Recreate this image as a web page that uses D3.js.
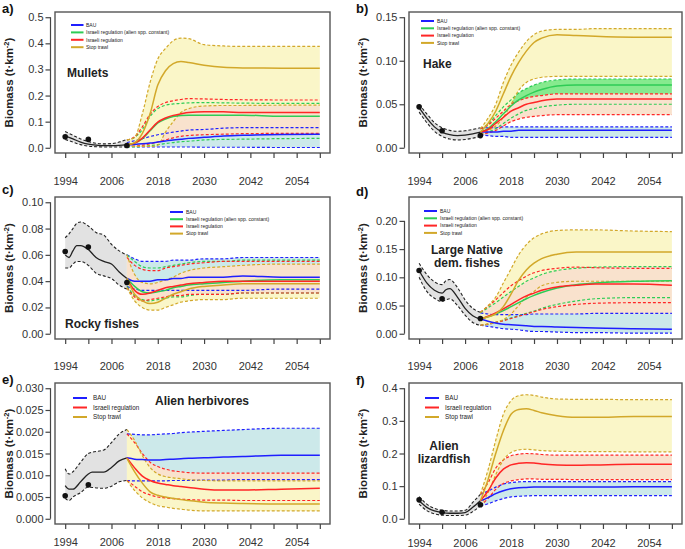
<!DOCTYPE html>
<html><head><meta charset="utf-8">
<script src="https://cdn.jsdelivr.net/npm/d3@7"></script>
<style>body{margin:0;background:#fff} svg{display:block} text{font-family:"Liberation Sans",Arial,sans-serif}</style>
</head><body><svg id="c" width="685" height="549"></svg>
<script>
// ---------------- DATA ----------------
const scenYears = [2010,2012,2014,2016,2018,2020,2022,2024,2026,2030,2035,2040,2050,2060];
const xTicks = [1994,2000,2006,2012,2018,2024,2030,2036,2042,2048,2054,2060];
const xTickLabels = [1994,2006,2018,2030,2042,2054];
const legend4 = ["BAU","Israeli regulation (alien spp. constant)","Israeli regulation","Stop trawl"];
const legend3 = ["BAU","Israeli regulation","Stop trawl"];

// a) Mullets
const mulletsHistYears = [1994,1996,1998,2000,2002,2004,2006,2008,2010];
const mulletsHist = {mean:[.046,.034,.022,.014,.010,.008,.008,.009,.012], hi:[.062,.048,.034,.024,.017,.015,.016,.022,.032], lo:[.032,.022,.012,.006,.004,.003,.003,.003,.003]};
const mulletsObsYears = [1994,2000,2010];
const mulletsObs = [.042,.032,.009];
const mulletsBau = {mean:[.012,.013,.015,.018,.022,.026,.030,.033,.036,.040,.045,.048,.051,.052], hi:[.020,.027,.035,.043,.050,.055,.060,.064,.068,.070,.075,.077,.077,.077], lo:[.005,.004,.003,.003,.003,.003,.003,.003,.003,.002,.002,.002,.001,.001]};
const mulletsGreen = {mean:[.012,.018,.035,.065,.095,.110,.120,.124,.125,.125,.125,.125,.121,.121], hi:[.030,.040,.070,.120,.150,.163,.168,.170,.172,.173,.172,.171,.170,.170], lo:[.003,.003,.005,.008,.012,.016,.020,.023,.025,.030,.032,.033,.035,.036]};
const mulletsRed = {mean:[.012,.018,.037,.068,.098,.114,.124,.130,.135,.138,.138,.135,.135,.135], hi:[.030,.042,.080,.128,.158,.173,.180,.185,.188,.187,.185,.184,.183,.183], lo:[.005,.006,.010,.015,.022,.030,.038,.044,.047,.050,.052,.054,.055,.055]};
const mulletsStop = {mean:[.012,.020,.055,.130,.240,.295,.322,.330,.327,.316,.308,.306,.305,.305], hi:[.030,.040,.130,.250,.340,.380,.410,.420,.418,.395,.390,.388,.388,.388], lo:[.005,.005,.005,.005,.010,.060,.100,.135,.150,.160,.162,.162,.163,.163]};
const mulletsYTicks = [0,0.1,0.2,0.3,0.4,0.5];

// b) Hake
const hakeHistYears = [1994,1996,1998,2000,2002,2004,2006,2008,2010];
const hakeHist = {mean:[.046,.034,.024,.018,.015,.014,.0145,.016,.018], hi:[.050,.039,.029,.023,.020,.019,.0195,.021,.023], lo:[.041,.029,.019,.013,.010,.009,.0095,.011,.013]};
const hakeObsYears = [1994,2000,2010];
const hakeObs = [.047,.0195,.014];
const hakeBau = {mean:[.018,.018,.018,.019,.019,.020,.020,.020,.020,.020,.020,.020,.020,.020], hi:[.022,.023,.023,.024,.024,.024,.024,.024,.024,.024,.024,.024,.024,.024], lo:[.015,.014,.013,.013,.012,.012,.012,.012,.012,.012,.012,.012,.012,.012]};
const hakeGreen = {mean:[.018,.022,.030,.039,.048,.055,.060,.064,.067,.071,.072,.072,.072,.072], hi:[.022,.027,.037,.047,.055,.063,.068,.072,.075,.078,.079,.079,.079,.079], lo:[.016,.018,.022,.028,.034,.039,.043,.045,.047,.049,.050,.050,.050,.050]};
const hakeRed = {mean:[.018,.021,.028,.035,.042,.046,.050,.052,.054,.056,.056,.056,.056,.056], hi:[.022,.026,.034,.042,.050,.054,.057,.059,.060,.062,.062,.062,.062,.062], lo:[.015,.017,.020,.025,.030,.033,.035,.036,.037,.038,.038,.038,.038,.038]};
const hakeStop = {mean:[.018,.028,.042,.062,.082,.098,.111,.121,.126,.130,.129,.128,.127,.127], hi:[.022,.034,.050,.075,.095,.110,.122,.130,.134,.136,.136,.137,.137,.137], lo:[.016,.020,.025,.035,.050,.066,.075,.079,.081,.082,.082,.082,.082,.082]};
const hakeYTicks = [0,0.05,0.10,0.15];

// c) Rocky fishes
const rockyHistYears = [1994,1995,1996,1997,1998,2000,2002,2004,2006,2008,2010];
const rockyHist = {mean:[.060,.058,.063,.067,.067,.064,.058,.055,.053,.047,.042], hi:[.073,.076,.080,.084,.085,.082,.077,.075,.068,.063,.060], lo:[.050,.050,.053,.055,.055,.052,.046,.044,.042,.037,.034]};
const rockyObsYears = [1994,2000,2010];
const rockyObs = [.0625,.066,.039];
const rockyBau = {mean:[.042,.040,.040,.040,.041,.041,.042,.042,.043,.043,.043,.044,.043,.043], hi:[.060,.057,.055,.055,.055,.055,.056,.056,.056,.057,.057,.058,.058,.058], lo:[.036,.034,.033,.033,.033,.033,.033,.033,.033,.033,.033,.033,.034,.034]};
const rockyGreen = {mean:[.042,.036,.032,.031,.032,.033,.035,.036,.037,.038,.039,.040,.041,.041], hi:[.060,.055,.051,.050,.050,.051,.052,.053,.054,.055,.055,.056,.056,.056], lo:[.036,.029,.026,.025,.026,.027,.028,.028,.029,.030,.030,.031,.031,.031]};
const rockyRed = {mean:[.042,.033,.030,.031,.033,.035,.036,.037,.038,.039,.040,.040,.040,.040], hi:[.058,.052,.049,.048,.048,.050,.051,.052,.053,.054,.055,.055,.055,.055], lo:[.035,.028,.025,.026,.027,.028,.029,.029,.030,.030,.030,.031,.031,.031]};
const rockyStop = {mean:[.042,.030,.025,.023,.024,.027,.030,.032,.034,.036,.037,.038,.038,.038], hi:[.060,.045,.039,.038,.039,.041,.043,.046,.048,.050,.051,.052,.053,.053], lo:[.035,.025,.020,.018,.018,.020,.022,.024,.025,.026,.026,.027,.027,.027]};
const rockyYTicks = [0,0.02,0.04,0.06,0.08,0.10];

// d) Large Native dem. fishes
const largeHistYears = [1994,1996,1998,2000,2001,2002,2004,2006,2008,2010];
const largeHist = {mean:[.112,.090,.077,.072,.078,.080,.065,.045,.032,.026], hi:[.125,.105,.092,.087,.094,.096,.082,.060,.045,.038], lo:[.100,.075,.063,.057,.060,.062,.050,.033,.020,.015]};
const largeObsYears = [1994,2000,2010];
const largeObs = [.112,.062,.027];
const largeBau = {mean:[.026,.022,.019,.017,.016,.015,.014,.013,.013,.012,.011,.010,.009,.008], hi:[.037,.035,.034,.034,.034,.034,.034,.035,.035,.035,.035,.036,.036,.036], lo:[.015,.013,.011,.009,.008,.007,.005,.004,.004,.003,.002,.002,.001,.001]};
const largeGreen = {mean:[.026,.030,.035,.041,.048,.055,.062,.068,.073,.081,.087,.090,.093,.094], hi:[.037,.046,.055,.065,.075,.084,.093,.099,.105,.112,.116,.118,.119,.119], lo:[.015,.017,.020,.024,.028,.032,.036,.040,.045,.052,.058,.062,.064,.064]};
const largeRed = {mean:[.026,.031,.037,.044,.052,.060,.067,.072,.077,.083,.086,.088,.088,.086], hi:[.038,.049,.060,.073,.085,.094,.102,.108,.112,.116,.118,.117,.116,.116], lo:[.015,.017,.020,.023,.027,.031,.035,.039,.043,.048,.052,.054,.055,.055]};
const largeStop = {mean:[.026,.030,.035,.048,.070,.095,.113,.125,.133,.141,.145,.145,.145,.145], hi:[.038,.050,.065,.090,.115,.140,.158,.170,.177,.183,.184,.184,.182,.181], lo:[.015,.017,.020,.025,.035,.050,.065,.075,.085,.091,.093,.093,.093,.093]};
const largeYTicks = [0,0.05,0.10,0.15,0.20];

// e) Alien herbivores
const herbHistYears = [1994,1995,1996,1998,2000,2001,2004,2006,2008,2010];
const herbHist = {mean:[.0076,.0068,.0068,.0085,.0103,.0107,.0107,.0118,.0133,.0140], hi:[.0115,.0103,.0108,.0130,.0150,.0153,.0158,.0175,.0195,.0205], lo:[.0047,.0042,.0050,.0060,.0073,.0072,.0070,.0075,.0085,.0088]};
const herbObsYears = [1994,2000];
const herbObs = [.0053,.0078];
const herbBau = {mean:[.0140,.0137,.0136,.0135,.0135,.0136,.0137,.0138,.0139,.0140,.0142,.0143,.0146,.0146], hi:[.0195,.0194,.0193,.0193,.0194,.0195,.0196,.0198,.0199,.0201,.0203,.0205,.0208,.0208], lo:[.0088,.0087,.0087,.0087,.0087,.0087,.0088,.0088,.0088,.0089,.0089,.0090,.0090,.0090]};
const herbRed = {mean:[.0140,.0117,.0098,.0088,.0082,.0079,.0076,.0074,.0072,.0068,.0066,.0066,.0068,.0070], hi:[.0195,.0175,.0150,.0130,.0120,.0114,.0110,.0108,.0106,.0105,.0105,.0105,.0105,.0105], lo:[.0088,.0075,.0062,.0055,.0050,.0048,.0046,.0045,.0044,.0043,.0043,.0042,.0042,.0042]};
const herbStop = {mean:[.0139,.0108,.0082,.0062,.0054,.0050,.0047,.0044,.0042,.0038,.0036,.0035,.0034,.0034], hi:[.0205,.0180,.0145,.0118,.0103,.0097,.0094,.0092,.0090,.0088,.0087,.0087,.0087,.0087], lo:[.0088,.0065,.0048,.0037,.0030,.0027,.0024,.0022,.0020,.0018,.0018,.0018,.0018,.0018]};
const herbYTicks = [0,0.005,0.010,0.015,0.020,0.025,0.030];

// f) Alien lizardfish
const lizHistYears = [1994,1996,1998,2000,2002,2004,2006,2008,2010];
const lizHist = {mean:[.055,.035,.024,.019,.017,.017,.019,.035,.055], hi:[.068,.045,.032,.026,.024,.024,.026,.050,.075], lo:[.045,.025,.015,.011,.010,.010,.011,.022,.040]};
const lizObsYears = [1994,2000,2010];
const lizObs = [.058,.020,.043];
const lizBau = {mean:[.055,.065,.077,.086,.092,.095,.096,.097,.097,.097,.097,.097,.098,.098], hi:[.075,.085,.097,.106,.111,.113,.114,.114,.114,.114,.114,.114,.114,.114], lo:[.040,.046,.055,.062,.067,.069,.070,.071,.071,.071,.071,.071,.071,.071]};
const lizRed = {mean:[.055,.085,.125,.152,.165,.170,.172,.171,.168,.165,.164,.165,.167,.167], hi:[.075,.110,.155,.180,.193,.198,.200,.199,.197,.195,.195,.195,.195,.195], lo:[.040,.062,.090,.108,.116,.120,.122,.122,.121,.121,.120,.120,.120,.120]};
const lizStop = {mean:[.055,.120,.200,.270,.320,.335,.337,.332,.325,.316,.311,.311,.313,.313], hi:[.075,.150,.240,.320,.362,.377,.380,.378,.373,.367,.366,.366,.365,.365], lo:[.040,.080,.135,.180,.203,.211,.213,.211,.209,.207,.206,.206,.205,.205]};
const lizYTicks = [0,0.1,0.2,0.3,0.4];

// ---------------- STYLE / LAYOUT ----------------
const col = {bau:"#1f1fff", green:"#2ecc55", red:"#ff2626", stop:"#d2a82a"};
const fillCol = {cyan:"#cce9ea", peach:"#f9e2cd", yellow:"#faf6c8", green:"#86ea8e", gray:"#e2e2e2"};
const LEFT = {L:55, R:330}, RIGHT = {L:409, R:682};

const panels = [
 {letter:"a)", names:["Mullets"], hy:mulletsHistYears, hist:mulletsHist, oy:mulletsObsYears, obs:mulletsObs,
  sc:{bau:mulletsBau, green:mulletsGreen, red:mulletsRed, stop:mulletsStop}, yt:mulletsYTicks, ymax:0.5, fmt:".1f", legend:legend4,
  fills:[["bau","lo","bau","hi","cyan"],["red","lo","red","hi","peach"],["stop","lo","stop","hi","yellow"]],
  box:{...LEFT,T:12,B:153}, lab:{x:67,y:77,a:"start"}, leg:{x:71,y:25,dy:7.4,fs:5,len:12.5,tx:15}, lp:{x:2,y:13}, yx:13, xo:28},
 {letter:"b)", names:["Hake"], hy:hakeHistYears, hist:hakeHist, oy:hakeObsYears, obs:hakeObs,
  sc:{bau:hakeBau, green:hakeGreen, red:hakeRed, stop:hakeStop}, yt:hakeYTicks, ymax:0.15, fmt:".2f", legend:legend4,
  fills:[["bau","lo","bau","hi","cyan"],["green","lo","green","hi","green"],["red","lo","red","hi","peach"],["stop","lo","stop","hi","yellow"]],
  box:{...RIGHT,T:12,B:153}, lab:{x:423,y:68,a:"start"}, leg:{x:421,y:21,dy:7.3,fs:5,len:13,tx:16}, lp:{x:356,y:13}, yx:367, xo:28},
 {letter:"c)", names:["Rocky fishes"], hy:rockyHistYears, hist:rockyHist, oy:rockyObsYears, obs:rockyObs,
  sc:{bau:rockyBau, green:rockyGreen, red:rockyRed, stop:rockyStop}, yt:rockyYTicks, ymax:0.10, fmt:".2f", legend:legend4,
  fills:[["bau","lo","bau","hi","cyan"],["stop","lo","stop","hi","yellow"],["red","lo","stop","hi","peach"]],
  box:{...LEFT,T:197,B:339}, lab:{x:65,y:328,a:"start"}, leg:{x:170,y:212,dy:7.2,fs:5,len:13,tx:16}, lp:{x:2,y:194}, yx:13, xo:27},
 {letter:"d)", names:["Large Native","dem. fishes"], hy:largeHistYears, hist:largeHist, oy:largeObsYears, obs:largeObs,
  sc:{bau:largeBau, green:largeGreen, red:largeRed, stop:largeStop}, yt:largeYTicks, ymax:0.233, fmt:".2f", legend:legend4,
  fills:[["bau","lo","bau","hi","cyan"],["stop","lo","stop","hi","yellow"],["bau","hi","green","hi","peach"]],
  box:{...RIGHT,T:197,B:339}, lab:{x:467,y:254,a:"middle"}, leg:{x:424,y:211,dy:7.3,fs:5,len:13,tx:16}, lp:{x:356,y:196}, yx:367, xo:27},
 {letter:"e)", names:["Alien herbivores"], hy:herbHistYears, hist:herbHist, oy:herbObsYears, obs:herbObs,
  sc:{bau:herbBau, red:herbRed, stop:herbStop}, yt:herbYTicks, ymax:0.03, fmt:".3f", legend:legend3,
  fills:[["bau","lo","bau","hi","cyan"],["red","lo","red","hi","peach"],["stop","lo","stop","hi","yellow"]],
  box:{...LEFT,T:383,B:524}, lab:{x:155,y:405,a:"start"}, leg:{x:73,y:398,dy:9.5,fs:6.3,len:14,tx:20}, lp:{x:2,y:384}, yx:13, xo:18},
 {letter:"f)", names:["Alien","lizardfish"], hy:lizHistYears, hist:lizHist, oy:lizObsYears, obs:lizObs,
  sc:{bau:lizBau, red:lizRed, stop:lizStop}, yt:lizYTicks, ymax:0.4, fmt:".1f", legend:legend3,
  fills:[["bau","lo","bau","hi","cyan"],["red","lo","red","hi","peach"],["stop","lo","stop","hi","yellow"]],
  box:{...RIGHT,T:383,B:524}, lab:{x:444,y:450,a:"middle"}, leg:{x:425,y:398,dy:9.5,fs:6.3,len:14,tx:20}, lp:{x:356,y:385}, yx:367, xo:19}
];

const svg = d3.select("#c");
const curve = d3.curveMonotoneX;

panels.forEach((p, pi) => {
  const b = p.box;
  const x = d3.scaleLinear().domain([1994 - 2.64, 2060 + 2.64]).range([b.L, b.R]);
  const y = d3.scaleLinear().domain([-0.04 * p.ymax, 1.04 * p.ymax]).range([b.B, b.T]);
  const g = svg.append("g");
  const clipId = "clip" + pi;
  g.append("clipPath").attr("id", clipId).append("rect")
    .attr("x", b.L).attr("y", b.T).attr("width", b.R - b.L).attr("height", b.B - b.T);
  const pg = g.append("g").attr("clip-path", `url(#${clipId})`);

  const line = (ys, vs) => d3.line().curve(curve).x((d,i)=>x(ys[i])).y((d,i)=>y(vs[i]))(vs);
  const area = (ys, lo, hi) => d3.area().curve(curve).x((d,i)=>x(ys[i])).y0((d,i)=>y(lo[i])).y1((d,i)=>y(hi[i]))(lo);

  // history band
  pg.append("path").attr("d", area(p.hy, p.hist.lo, p.hist.hi)).attr("fill", fillCol.gray);
  // scenario fills
  p.fills.forEach(f => {
    pg.append("path").attr("d", area(scenYears, p.sc[f[0]][f[1]], p.sc[f[2]][f[3]])).attr("fill", fillCol[f[4]]);
  });
  // history CI
  ["hi","lo"].forEach(k => pg.append("path").attr("d", line(p.hy, p.hist[k])).attr("fill","none")
     .attr("stroke","#222").attr("stroke-width",1.1).attr("stroke-dasharray","3,2"));
  pg.append("path").attr("d", line(p.hy, p.hist.mean)).attr("fill","none").attr("stroke","#222").attr("stroke-width",1.3);
  // scenario CI dashed
  const keys = Object.keys(p.sc);
  keys.forEach(k => ["hi","lo"].forEach(q => pg.append("path").attr("d", line(scenYears, p.sc[k][q]))
     .attr("fill","none").attr("stroke", col[k]).attr("stroke-width",1.2).attr("stroke-dasharray","3,2")));
  keys.forEach(k => pg.append("path").attr("d", line(scenYears, p.sc[k].mean))
     .attr("fill","none").attr("stroke", col[k]).attr("stroke-width",1.5));
  // observations
  pg.selectAll("circle.o").data(p.obs).enter().append("circle")
    .attr("cx",(d,i)=>x(p.oy[i])).attr("cy",d=>y(d)).attr("r",2.8).attr("fill","#111");

  // box
  g.append("rect").attr("x", b.L).attr("y", b.T).attr("width", b.R - b.L).attr("height", b.B - b.T)
    .attr("fill","none").attr("stroke","#555").attr("stroke-width",1.4);

  // y axis (offset, R style)
  const ax = b.L - 4.5;
  const yAxis = d3.axisLeft(y).tickValues(p.yt).tickFormat(d3.format(p.fmt)).tickSize(5).tickPadding(2);
  const ya = g.append("g").attr("transform", `translate(${ax},0)`).call(yAxis);
  ya.select(".domain").attr("d", `M0,${y(p.yt[0])}V${y(p.yt[p.yt.length-1])}`).attr("stroke","#444").attr("stroke-width",1.2);
  ya.selectAll(".tick line").attr("stroke","#444").attr("stroke-width",1.2);
  ya.selectAll(".tick text").attr("fill","#333").style("font-size","11px").style("font-family","'Liberation Sans',Arial,sans-serif");

  // x axis
  const xAxis = d3.axisBottom(x).tickValues(xTicks).tickSize(5)
    .tickFormat(d => xTickLabels.includes(d) ? d : "").tickPadding(p.xo - 9);
  const xa = g.append("g").attr("transform", `translate(0,${b.B})`).call(xAxis);
  xa.select(".domain").remove();
  xa.selectAll(".tick line").attr("stroke","#444").attr("stroke-width",1.2);
  xa.selectAll(".tick text").attr("fill","#333").style("font-size","11px").style("font-family","'Liberation Sans',Arial,sans-serif");

  // y title
  const yc = (b.T + b.B) / 2;
  const yt = g.append("text").attr("transform", `translate(${p.yx},${yc}) rotate(-90)`)
    .attr("text-anchor","middle").attr("font-weight","bold").attr("font-size",11.5).attr("fill","#222");
  yt.append("tspan").text("Biomass (t·km");
  yt.append("tspan").attr("dy",-4).attr("font-size",7.5).text("-2");
  yt.append("tspan").attr("dy",4).text(")");

  // panel letter
  g.append("text").attr("x", p.lp.x).attr("y", p.lp.y).attr("font-weight","bold").attr("font-size",13).attr("fill","#111").text(p.letter);

  // species label
  p.names.forEach((n, i) => g.append("text").attr("x", p.lab.x).attr("y", p.lab.y + i * 13)
    .attr("text-anchor", p.lab.a).attr("font-weight","bold").attr("font-size",12).attr("fill","#222").text(n));

  // legend
  const lk = p.legend.length === 4 ? ["bau","green","red","stop"] : ["bau","red","stop"];
  p.legend.forEach((t, i) => {
    const yy = p.leg.y + i * p.leg.dy;
    g.append("line").attr("x1", p.leg.x).attr("x2", p.leg.x + p.leg.len).attr("y1", yy).attr("y2", yy)
      .attr("stroke", col[lk[i]]).attr("stroke-width", 2);
    g.append("text").attr("x", p.leg.x + p.leg.tx).attr("y", yy + p.leg.fs * 0.35)
      .attr("font-size", p.leg.fs).attr("fill","#222").text(t);
  });
});
</script></body></html>
